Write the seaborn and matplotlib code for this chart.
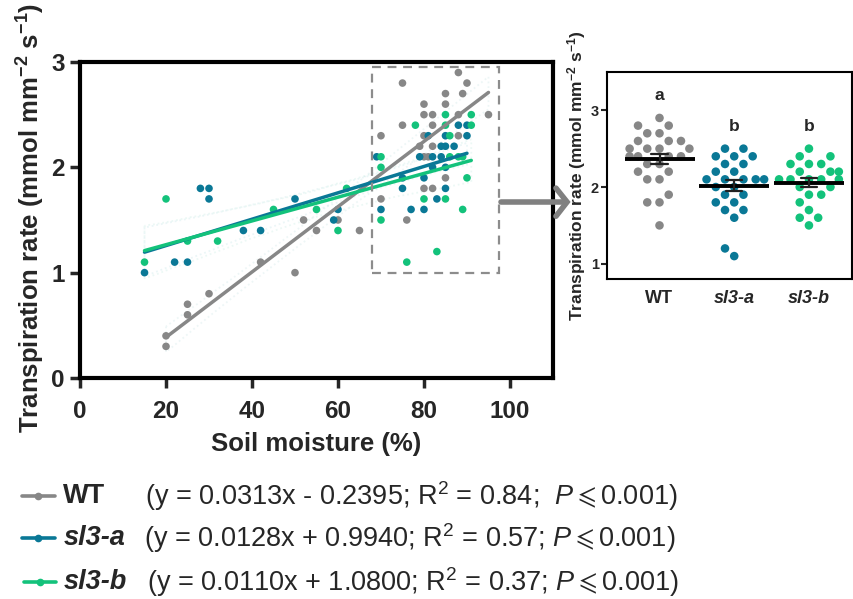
import numpy as np
import pandas as pd
import matplotlib
matplotlib.use("Agg")
import matplotlib.pyplot as plt
import seaborn as sns
from matplotlib.lines import Line2D
from matplotlib.patches import Rectangle

# ---------------- data ----------------
genotypes = ["WT", "sl3-a", "sl3-b"]
palette = {"WT": "#878787", "sl3-a": "#0a7896", "sl3-b": "#13c27b"}

wt_moist = [20, 20, 25, 25, 30, 42, 50, 52, 55, 60, 65, 70, 70, 75, 75, 76, 79, 80, 80, 80,
            80, 81, 80, 82, 82, 82, 82, 85, 85, 85, 88, 88, 88, 89, 90, 95]
wt_rate = [0.4, 0.3, 0.6, 0.7, 0.8, 1.1, 1.0, 1.5, 1.4, 1.5, 1.4, 2.3, 1.7, 2.8, 2.4, 1.5, 2.2, 2.6, 2.5, 2.3,
           2.1, 2.1, 1.8, 2.5, 2.4, 2.2, 1.8, 2.7, 2.6, 1.9, 2.9, 2.5, 2.3, 2.7, 2.8, 2.5]

a_moist = [15, 22, 25, 28, 30, 30, 38, 42, 50, 60, 59, 69, 81, 85, 88, 90, 90, 84, 85, 87,
           79, 82, 84, 82, 85, 75, 80, 75, 85, 70, 77, 80, 83]
a_rate = [1.0, 1.1, 1.1, 1.8, 1.8, 1.7, 1.4, 1.4, 1.7, 1.6, 1.5, 2.1, 2.3, 2.3, 2.4, 2.4, 2.3, 2.2, 2.2, 2.2,
          2.1, 2.1, 2.1, 2.0, 2.0, 1.9, 1.9, 1.8, 1.8, 1.6, 1.6, 1.6, 1.7]

b_moist = [15, 20, 25, 32, 45, 55, 60, 62, 85, 91, 78, 85, 91, 86, 86, 88, 89, 70, 70, 90,
           80, 85, 89, 70, 83, 76]
b_rate = [1.1, 1.7, 1.3, 1.3, 1.6, 1.6, 1.4, 1.8, 2.5, 2.5, 2.4, 2.4, 2.4, 2.3, 2.1, 2.1, 2.1, 2.1, 2.0, 1.9,
          1.7, 1.7, 1.6, 1.5, 1.2, 1.1]

wt_inset = [2.9, 2.8, 2.8, 2.7, 2.7, 2.6, 2.6, 2.6, 2.5, 2.5, 2.5, 2.5, 2.4, 2.4, 2.4, 2.4,
            2.3, 2.3, 2.2, 2.2, 2.1, 2.1, 1.9, 1.8, 1.8, 1.5]
a_inset = [2.5, 2.5, 2.4, 2.4, 2.4, 2.3, 2.3, 2.2, 2.2, 2.1, 2.1, 2.1, 2.1, 2.1, 2.0, 2.0,
           1.9, 1.9, 1.8, 1.8, 1.7, 1.7, 1.6, 1.2, 1.1]
b_inset = [2.5, 2.4, 2.4, 2.3, 2.3, 2.3, 2.2, 2.2, 2.2, 2.1, 2.1, 2.1, 2.1, 2.1, 2.0, 2.0,
           1.9, 1.9, 1.8, 1.7, 1.6, 1.6, 1.5]

sig_letters = ["a", "b", "b"]
letter_y = [3.19, 2.79, 2.79]

equations = ["(y = 0.0313x - 0.2395; R$^2$ = 0.84;  $P$$\\leqslant$0.001)",
             "(y = 0.0128x + 0.9940; R$^2$ = 0.57; $P$$\\leqslant$0.001)",
             "(y = 0.0110x + 1.0800; R$^2$ = 0.37; $P$$\\leqslant$0.001)"]

box_x = [68, 97.5]
box_y = [1.0, 2.95]

# ---------------- style ----------------
sns.set_style("white")
plt.rcParams["font.family"] = ["Liberation Sans", "DejaVu Sans"]
plt.rcParams["mathtext.fontset"] = "custom"
plt.rcParams["mathtext.rm"] = "Liberation Sans"
plt.rcParams["mathtext.it"] = "Liberation Sans:italic"
plt.rcParams["mathtext.bf"] = "Liberation Sans:bold"

scatter_df = pd.concat([
    pd.DataFrame({"moist": wt_moist, "rate": wt_rate, "g": "WT"}),
    pd.DataFrame({"moist": a_moist, "rate": a_rate, "g": "sl3-a"}),
    pd.DataFrame({"moist": b_moist, "rate": b_rate, "g": "sl3-b"}),
], ignore_index=True)

inset_df = pd.concat([
    pd.DataFrame({"g": "WT", "rate": wt_inset}),
    pd.DataFrame({"g": "sl3-a", "rate": a_inset}),
    pd.DataFrame({"g": "sl3-b", "rate": b_inset}),
], ignore_index=True)

fig = plt.figure(figsize=(8.54, 5.99), dpi=100)
ax = fig.add_axes([0.0937, 0.369, 0.5538, 0.5275])

# scatter
for g in genotypes:
    sub = scatter_df[scatter_df.g == g]
    sns.scatterplot(data=sub, x="moist", y="rate", color=palette[g], s=30,
                    edgecolor="none", ax=ax, zorder=2, legend=False)

ci_colors = {"WT": "#8cc6c8", "sl3-a": "#7cc6cd", "sl3-b": "#84d6c0"}
for g in genotypes:
    sub = scatter_df[scatter_df.g == g]
    n_before = len(ax.collections)
    sns.regplot(data=sub, x="moist", y="rate", scatter=False, ci=95, ax=ax, seed=3,
                color=palette[g], line_kws={"lw": 2.5, "zorder": 3})
    for coll in ax.collections[n_before:]:
        coll.set_facecolor("none")
        coll.set_edgecolor(ci_colors[g])
        coll.set_linestyle((0, (1, 1.6)))
        coll.set_linewidth(1.3)

ax.add_patch(Rectangle((box_x[0], box_y[0]), box_x[1] - box_x[0], box_y[1] - box_y[0],
                       fill=False, edgecolor="#8c8c8c", lw=1.6, ls=(0, (4, 3)), zorder=4))

ax.set_xlim(0, 110)
ax.set_ylim(0, 3)
ax.set_xticks([0, 20, 40, 60, 80, 100])
ax.set_yticks([0, 1, 2, 3])
for sp in ax.spines.values():
    sp.set_linewidth(3)
    sp.set_color("black")
ax.tick_params(axis="both", direction="out", length=7, width=2.5, labelsize=17.5,
               left=True, bottom=True, pad=4)
ax.tick_params(axis="x", pad=9)
for lab in ax.get_xticklabels() + ax.get_yticklabels():
    lab.set_fontweight("bold")
ax.set_xlabel("Soil moisture (%)", fontsize=18.5, fontweight="bold", labelpad=6)
ax.set_ylabel("Transpiration rate (mmol mm$^{\\mathbf{-2}}$ s$^{\\mathbf{-1}}$)",
              fontsize=18.5, fontweight="bold")
ax.yaxis.set_label_coords(-0.07, 0.505)

# arrow to inset
fig.add_artist(Line2D([0.5867, 0.663], [0.6628, 0.6628], transform=fig.transFigure,
                      color="#808080", lw=4))
fig.add_artist(Line2D([0.651, 0.664, 0.651], [0.686, 0.6628, 0.639],
                      transform=fig.transFigure, color="#808080", lw=4,
                      solid_joinstyle="miter"))

# ---------------- inset ----------------
axi = fig.add_axes([0.711, 0.534, 0.287, 0.346])
n0 = len(axi.collections)
sns.swarmplot(data=inset_df, x="g", y="rate", hue="g", palette=palette, order=genotypes,
              size=8.4, ax=axi, legend=False, zorder=2)
swarm_colls = axi.collections[n0:]
sns.pointplot(data=inset_df, x="g", y="rate", order=genotypes, errorbar="se",
              color="#222222", linestyle="none", markers="_", markersize=50,
              markeredgewidth=2.8, capsize=0.22, err_kws={"linewidth": 1.6}, ax=axi)
for line in axi.lines:
    line.set_zorder(5)
    if line.get_marker() == "_":
        line.set_color("black")

for i, (let, yy) in enumerate(zip(sig_letters, letter_y)):
    axi.text(i, yy, let, ha="center", va="center", fontsize=12.5, fontweight="bold")

axi.set_xlim(-0.7, 2.58)
axi.set_ylim(0.8, 3.5)
axi.set_yticks([1, 2, 3])
for sp in axi.spines.values():
    sp.set_linewidth(1.5)
    sp.set_color("black")
axi.tick_params(axis="y", direction="out", length=4, width=1.5, labelsize=10.5, left=True, pad=2)
axi.tick_params(axis="x", length=0, labelsize=13, pad=8)
for lab in axi.get_yticklabels():
    lab.set_fontweight("bold")
for lab in axi.get_xticklabels():
    lab.set_fontweight("bold")
    if lab.get_text() != "WT":
        lab.set_fontstyle("italic")
axi.set_xlabel("")
axi.set_ylabel("Transpiration rate (mmol mm$^{\\mathbf{-2}}$ s$^{\\mathbf{-1}}$)",
               fontsize=12.5, fontweight="bold")
axi.yaxis.set_label_coords(-0.077, 0.50)

# ---------------- legend (manual) ----------------
rows_y = [0.172, 0.1018, 0.0284]
handle_x = [(0.026, 0.064), (0.026, 0.064), (0.028, 0.066)]
name_x = [0.074, 0.074, 0.074]
eq_x = [0.170, 0.169, 0.172]
for g, yy, hx, nx, ex, eq in zip(genotypes, rows_y, handle_x, name_x, eq_x, equations):
    fig.add_artist(Line2D(list(hx), [yy, yy], transform=fig.transFigure, color=palette[g], lw=2.6))
    fig.add_artist(Line2D([np.mean(hx)], [yy], transform=fig.transFigure, color=palette[g],
                          marker="o", markersize=4.5, lw=0))
    fig.text(nx, yy, g, fontsize=19.5, fontweight="bold",
             fontstyle="normal" if g == "WT" else "italic", va="center")
    fig.text(ex, yy, eq, fontsize=19.5, va="center")

# compute the swarm layout once with the larger spacing size, then freeze it
fig.canvas.draw()
for c in swarm_colls:
    if "draw" in vars(c):
        del c.draw
    c.set_sizes([38])

fig.savefig("out.png", dpi=100)
